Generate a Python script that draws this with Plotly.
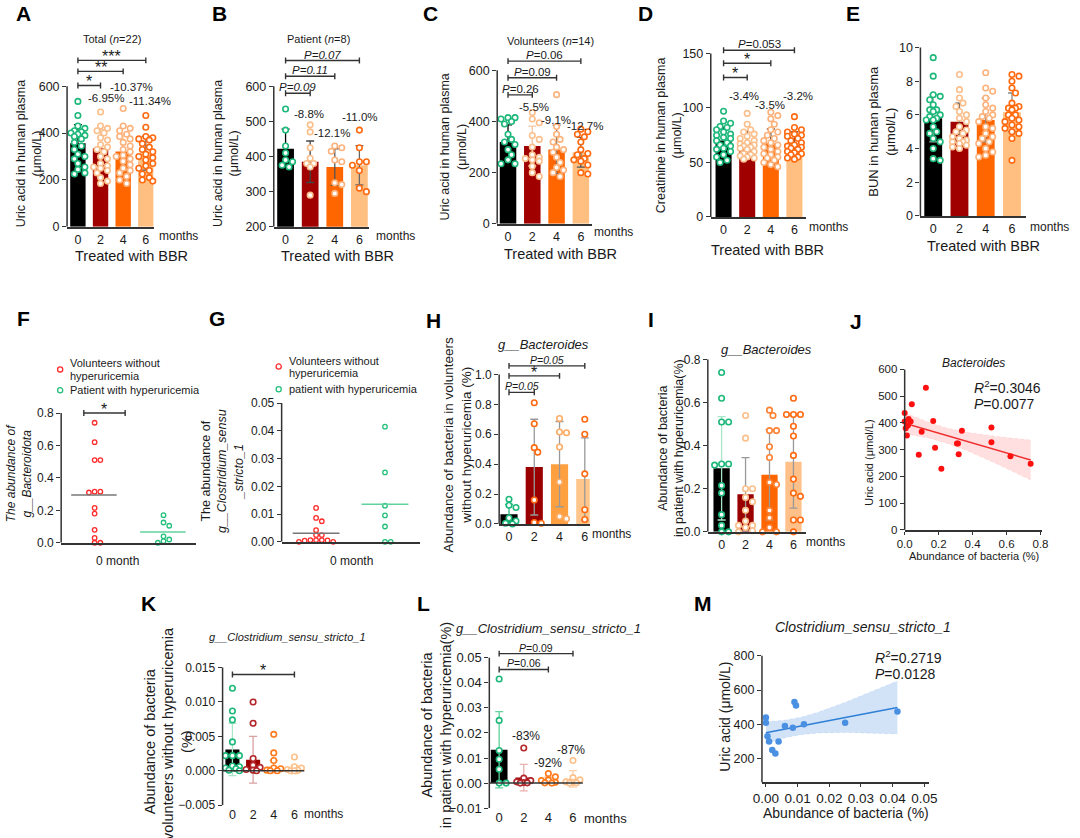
import numpy as np
import plotly.graph_objects as go

W, H = 1080, 838
FONT = "Liberation Sans, Arial, Helvetica, sans-serif"
TXT = "#1a1a1a"
AXC = "#333333"
MONTHS = ["0", "2", "4", "6"]

# ---------------- data ----------------
A_MEAN = [356, 335, 321, 314]
A_SD = [80, 80, 78, 72]
A_PTS = [
    [535, 475, 430, 420, 410, 405, 400, 395, 390, 385, 375, 360, 345, 330, 310, 300, 290, 270, 255, 245, 230, 225],
    [490, 430, 420, 410, 400, 380, 370, 350, 340, 330, 320, 300, 290, 270, 260, 255, 250, 240, 230, 210, 195, 185],
    [505, 430, 420, 410, 395, 385, 375, 360, 345, 330, 320, 305, 300, 290, 280, 265, 250, 240, 230, 215, 200, 185],
    [475, 425, 385, 380, 375, 370, 355, 340, 330, 320, 310, 300, 295, 285, 270, 260, 250, 240, 225, 210, 200, 195],
]
A_PCT = ["-6.95%", "-10.37%", "-11.34%"]

B_MEAN = [422, 385, 370, 375]
B_SD = [56, 59, 52, 56]
B_PTS = [
    [535, 475, 430, 410, 390, 385, 375, 370],
    [490, 470, 425, 395, 380, 380, 370, 290],
    [430, 425, 415, 390, 385, 325, 320, 295],
    [475, 425, 385, 385, 375, 360, 310, 300],
]
B_PCT = ["-8.8%", "-12.1%", "-11.0%"]

C_MEAN = [320, 304, 291, 280]
C_SD = [67, 78, 95, 58]
C_PTS = [
    [415, 415, 410, 400, 390, 350, 330, 320, 310, 290, 270, 250, 235, 235],
    [435, 410, 395, 345, 330, 300, 270, 260, 255, 250, 245, 225, 200, 185],
    [505, 380, 350, 330, 320, 300, 290, 280, 260, 240, 220, 210, 200, 185],
    [370, 360, 350, 340, 320, 290, 275, 270, 255, 250, 245, 230, 200, 195],
]
C_PCT = ["-5.5%", "-9.1%", "-12.7%"]

D_MEAN = [70.2, 67.8, 67.7, 68.0]
D_SD = [12, 11, 13, 10]
D_PTS = [
    [97, 88, 86, 83, 82, 80, 78, 76, 75, 73, 72, 70, 68, 66, 65, 63, 62, 60, 57, 55, 52, 50],
    [95, 85, 80, 78, 76, 74, 72, 70, 68, 67, 66, 65, 64, 63, 62, 60, 58, 57, 56, 55, 54, 53],
    [96, 93, 90, 85, 80, 78, 75, 72, 70, 68, 66, 64, 62, 60, 58, 57, 55, 54, 52, 50, 48, 46],
    [92, 82, 80, 78, 76, 75, 74, 72, 70, 68, 66, 65, 64, 63, 62, 60, 59, 58, 57, 55, 54, 53],
]
D_PCT = ["-3.4%", "-3.5%", "-3.2%"]

E_MEAN = [5.8, 5.6, 5.7, 6.15]
E_SD = [1.4, 1.1, 1.3, 1.15]
E_PTS = [
    [9.4, 8.3, 7.2, 7.1, 6.9, 6.6, 6.3, 6.3, 6.2, 6.0, 5.9, 5.8, 5.7, 5.7, 5.3, 5.0, 4.9, 4.6, 4.4, 4.0, 3.4, 3.3],
    [8.4, 7.5, 7.0, 6.7, 6.5, 6.2, 6.0, 5.8, 5.6, 5.3, 5.1, 5.0, 4.9, 4.7, 4.6, 4.5, 4.4, 4.4, 4.3, 4.2, 4.1, 4.0],
    [8.5, 7.6, 7.4, 7.0, 6.6, 6.4, 6.2, 6.0, 5.9, 5.8, 5.6, 5.3, 5.2, 4.9, 4.7, 4.6, 4.4, 4.3, 4.0, 3.8, 3.6, 3.5],
    [8.4, 8.3, 8.0, 7.6, 7.3, 6.7, 6.5, 6.4, 6.4, 6.3, 6.0, 6.0, 5.8, 5.7, 5.6, 5.4, 5.3, 5.2, 5.0, 4.9, 4.6, 3.3],
]

F_VOL = [0.74, 0.62, 0.51, 0.51, 0.315, 0.315, 0.31, 0.215, 0.18, 0.08, 0.03, 0.0, 0.0]
F_PAT = [0.17, 0.125, 0.105, 0.04, 0.02, 0.01, 0.0]
G_VOL = [0.0122, 0.0086, 0.0074, 0.0042, 0.0024, 0.0024, 0.0006, 0.0006, 0.0005, 0.0004, 0.0006, 0.0, 0.0]
G_PAT = [0.0415, 0.025, 0.013, 0.0095, 0.0055, 0.0, 0.0]

H_MEAN = [0.065, 0.38, 0.40, 0.30]
H_SD = [0.065, 0.32, 0.285, 0.275]
H_PTS = [
    [0.165, 0.125, 0.11, 0.04, 0.02, 0.005, 0.0],
    [0.81, 0.67, 0.51, 0.48, 0.16, 0.01, 0.005],
    [0.705, 0.615, 0.61, 0.515, 0.28, 0.05, 0.035],
    [0.70, 0.60, 0.335, 0.32, 0.095, 0.03, 0.005],
]

I_MEAN = [0.295, 0.175, 0.265, 0.325]
I_SD = [0.24, 0.17, 0.21, 0.215]
I_PTS = [
    [0.74, 0.62, 0.51, 0.51, 0.315, 0.315, 0.31, 0.215, 0.18, 0.08, 0.03, 0.0, 0.0],
    [0.54, 0.435, 0.20, 0.20, 0.16, 0.14, 0.10, 0.05, 0.03, 0.03, 0.02, 0.005, 0.0],
    [0.565, 0.54, 0.47, 0.47, 0.395, 0.345, 0.23, 0.22, 0.10, 0.065, 0.02, 0.0, 0.0],
    [0.62, 0.545, 0.545, 0.545, 0.49, 0.445, 0.355, 0.245, 0.18, 0.165, 0.055, 0.055, 0.0],
]

J_X = [0.0, 0.0, 0.006, 0.013, 0.023, 0.035, 0.019, 0.042, 0.125, 0.10, 0.083, 0.168, 0.179,
       0.216, 0.308, 0.314, 0.318, 0.337, 0.511, 0.511, 0.623, 0.742]
J_Y = [437, 405, 380, 353, 415, 405, 390, 470, 532, 367, 281, 407, 307,
       229, 323, 323, 283, 371, 383, 328, 275, 247]

K_MEAN = [0.0031, 0.0016, 0.0006, 0.0002]
K_SD = [0.0038, 0.0034, 0.0009, 0.0006]
K_PTS = [
    [0.012, 0.0087, 0.0074, 0.0042, 0.0022, 0.0022, 0.0022, 0.0007, 0.0006, 0.0004, 0.0003, 0.0001, 0.0],
    [0.010, 0.0069, 0.0018, 0.0008, 0.0005, 0.0002, 0.0001, 0.0],
    [0.0053, 0.0026, 0.0015, 0.0004, 0.0003, 0.0001, 0.0, 0.0],
    [0.0020, 0.0006, 0.0004, 0.0002, 0.0001, 0.0, 0.0],
]

L_MEAN = [0.0133, 0.0022, 0.0011, 0.0017]
L_SD = [0.0152, 0.0053, 0.0013, 0.0033]
L_PTS = [
    [0.0415, 0.025, 0.013, 0.0095, 0.0055, 0.0, 0.0],
    [0.014, 0.002, 0.001, 0.0005, 0.0002, 0.0001, 0.0],
    [0.0038, 0.0025, 0.0012, 0.001, 0.0003, 0.0001, 0.0],
    [0.009, 0.0022, 0.0013, 0.0005, 0.0003, 0.0001, 0.0],
]
L_PCT = ["-83%", "-92%", "-87%"]

M_X = [0.0, 0.0, 0.0005, 0.001, 0.002, 0.003, 0.004, 0.006, 0.0085, 0.009, 0.0095, 0.012, 0.025, 0.0415]
M_Y = [440, 410, 330, 300, 250, 230, 300, 390, 380, 530, 510, 400, 410, 475]

# ---------------- colours ----------------
GREEN = "#1db87a"
BAR_ROW1 = ["#000000", "#a00000", "#ff6600", "#ffbf80"]
PT_ROW1 = [GREEN, "#fbbf8c", "#fdb27c", "#ff6a10"]

fig = go.Figure()
LAY = dict(width=W, height=H, margin=dict(l=0, r=0, t=0, b=0), paper_bgcolor="white",
           plot_bgcolor="rgba(0,0,0,0)", showlegend=False, barmode="overlay",
           font=dict(family=FONT, color=TXT, size=12))
SHAPES, ANNS, P = [], [], {}


def axes(n, xdom, xcal, ydom, ycal, yticks, yfmt, ysize=12.5, xticks=(0, 1, 2, 3), xtext=MONTHS,
         xfmt=None, xline=True, xsize=12.5, xtickmark=False, yline=None):
    s = "" if n == 1 else str(n)
    xn, yn = "x" + s, "y" + s
    (xv1, xp1), (xv2, xp2) = xcal
    sx = (xp2 - xp1) / (xv2 - xv1)
    xr = [xv1 + (xdom[0] - xp1) / sx, xv1 + (xdom[1] - xp1) / sx]
    (yv1, yp1), (yv2, yp2) = ycal
    sy = (yp2 - yp1) / (yv2 - yv1)
    yr = [yv1 + (ydom[1] - yp1) / sy, yv1 + (ydom[0] - yp1) / sy]
    xa = dict(domain=[xdom[0] / W, xdom[1] / W], range=xr, anchor=yn, showgrid=False, zeroline=False,
              showline=xline, linecolor=AXC, linewidth=1.5,
              ticks="outside" if xtickmark else "", ticklen=3, tickwidth=1.3, tickcolor=AXC,
              tickmode="array", tickvals=list(xticks), showticklabels=len(xticks) > 0,
              tickfont=dict(size=xsize, color=TXT, family=FONT))
    if xtext is not None:
        xa["ticktext"] = list(xtext)
    if xfmt:
        xa["tickformat"] = xfmt
    ya = dict(domain=[1 - ydom[1] / H, 1 - ydom[0] / H], range=yr, anchor=xn, showgrid=False,
              zeroline=False, showline=False, ticks="outside", ticklen=4, tickwidth=1.3, tickcolor=AXC,
              tickmode="array", tickvals=list(yticks), tickformat=yfmt,
              tickfont=dict(size=ysize, color=TXT, family=FONT))
    LAY["xaxis" + s] = xa
    LAY["yaxis" + s] = ya
    lo, hi = yline if yline else (yticks[0], yticks[-1])
    if lo is None:
        lo = yr[0]
    SHAPES.append(dict(type="line", xref=xn + " domain", yref=yn, x0=0, x1=0, y0=lo, y1=hi,
                       line=dict(color=AXC, width=1.5)))
    P[n] = dict(xn=xn, yn=yn, sx=abs(sx), sy=abs(sy))
    return P[n]


def swarm(vals, sx, sy, d, cap):
    order = sorted(range(len(vals)), key=lambda k: -vals[k])
    step = d / 2.0
    cands = [0.0]
    k = 1
    while k * step <= cap + 1e-9:
        cands += [k * step, -k * step]
        k += 1
    placed, offs = [], [0.0] * len(vals)
    for i in order:
        y = vals[i] * sy
        best, bestd = 0.0, -1.0
        for c in cands:
            md = min([((c - a) ** 2 + (y - b) ** 2) ** 0.5 for a, b in placed], default=1e9)
            if md >= d * 0.8:
                best = c
                break
            if md > bestd:
                bestd, best = md, c
        placed.append((best, y))
        offs[i] = best / sx
    return offs


def bars(p, means, sds, cols, ecols, width=0.68):
    for i, (m, s) in enumerate(zip(means, sds)):
        fig.add_trace(go.Bar(x=[i], y=[m], width=width, marker=dict(color=cols[i], line=dict(width=0)),
                             error_y=dict(type="data", array=[s], color=ecols[i], thickness=1.3, width=4),
                             xaxis=p["xn"], yaxis=p["yn"], hoverinfo="skip"))


def dots(p, groups, cols, size=5.5, lw=1.6, fill="white", cap=8, xs=None):
    for i, vals in enumerate(groups):
        off = swarm(vals, p["sx"], p["sy"], size + lw, cap)
        x0 = i if xs is None else xs[i]
        fig.add_trace(go.Scatter(x=[x0 + o for o in off], y=vals, mode="markers",
                                 marker=dict(size=size, color=fill, line=dict(color=cols[i], width=lw)),
                                 xaxis=p["xn"], yaxis=p["yn"], cliponaxis=False, hoverinfo="skip"))


def bracket(p, x0, x1, y, text, size=11.5, star=False, cap_px=3.0):
    hy = cap_px / p["sy"]
    ln = dict(color=AXC, width=1.4)
    for (a, b, c, d) in [(x0, y, x1, y), (x0, y - hy, x0, y + hy), (x1, y - hy, x1, y + hy)]:
        SHAPES.append(dict(type="line", xref=p["xn"], yref=p["yn"], x0=a, y0=b, x1=c, y1=d, line=ln))
    ANNS.append(dict(x=(x0 + x1) / 2, y=y, xref=p["xn"], yref=p["yn"], text=text, showarrow=False,
                     yanchor="bottom", yshift=(-7 if star else -2),
                     font=dict(size=(16 if star else size), color=TXT, family=FONT)))


def txt(x, y, text, size=12, anchor="center", angle=0, color=TXT, align="center"):
    ANNS.append(dict(x=x / W, y=1 - y / H, xref="paper", yref="paper", text=text, showarrow=False,
                     xanchor=anchor, yanchor="middle", textangle=angle, align=align,
                     font=dict(size=size, color=color, family=FONT)))


def circ(x, y, color, r=2.6):
    SHAPES.append(dict(type="circle", xref="paper", yref="paper", x0=(x - r) / W, x1=(x + r) / W,
                       y0=1 - (y + r) / H, y1=1 - (y - r) / H, line=dict(color=color, width=1.3),
                       fillcolor="white"))


def regress(p, xs, ys, color, fill, tval):
    xs, ys = np.asarray(xs, float), np.asarray(ys, float)
    b, a = np.polyfit(xs, ys, 1)
    n = len(xs)
    xm = xs.mean()
    sxx = ((xs - xm) ** 2).sum()
    s = np.sqrt(((ys - (a + b * xs)) ** 2).sum() / (n - 2))
    gx = np.linspace(xs.min(), xs.max(), 80)
    fit = a + b * gx
    se = s * np.sqrt(1.0 / n + (gx - xm) ** 2 / sxx)
    fig.add_trace(go.Scatter(x=gx, y=fit - tval * se, mode="lines", line=dict(width=0.6, color=fill, dash="dot"),
                             xaxis=p["xn"], yaxis=p["yn"], hoverinfo="skip"))
    fig.add_trace(go.Scatter(x=gx, y=fit + tval * se, mode="lines", line=dict(width=0.6, color=fill, dash="dot"),
                             fill="tonexty", fillcolor=fill, xaxis=p["xn"], yaxis=p["yn"], hoverinfo="skip"))
    fig.add_trace(go.Scatter(x=gx, y=fit, mode="lines", line=dict(width=1.5, color=color),
                             xaxis=p["xn"], yaxis=p["yn"], hoverinfo="skip"))


PANEL_LETTERS = [("A", 15, 14), ("B", 214, 14), ("C", 428, 14), ("D", 647, 14), ("E", 857, 14),
                 ("F", 15, 322), ("G", 211, 322), ("H", 431, 324), ("I", 652, 323), ("J", 861, 325),
                 ("K", 142, 609), ("L", 421, 609), ("M", 705, 609)]
for t, x, y in PANEL_LETTERS:
    txt(x, y, "<b>%s</b>" % t, size=21, color="#000000")

# ---------------- A ----------------
p = axes(1, (59, 147), ((0, 70), (3, 139)), (28, 229), ((0, 229), (600, 87)), [0, 200, 400, 600], "d")
bars(p, A_MEAN, A_SD, BAR_ROW1, ["#000000", "#f3c6a2", "#ffd9b8", "#666666"])
dots(p, A_PTS, PT_ROW1)
bracket(p, 0, 3, 710, "***", star=True)
bracket(p, 0, 2, 663, "**", star=True)
bracket(p, 0, 1, 603, "*", star=True)
txt(105, 39, "Total (<i>n</i>=22)", 11)
for (x, y), t in zip([(99, 99), (124, 88), (143, 102)], A_PCT):
    txt(x, y, t, 11.5)
txt(20, 155, "Uric acid in human plasma<br>(μmol/L)", 12.5, angle=-90)
txt(172, 238, "months", 12)
txt(124, 258, "Treated with BBR", 14.5)

# ---------------- B ----------------
p = axes(2, (269, 366), ((0, 281), (3, 356)), (28, 229), ((200, 229), (600, 87)), [200, 300, 400, 500, 600], "d")
bars(p, B_MEAN, B_SD, BAR_ROW1, ["#000000", "#444444", "#555555", "#666666"])
dots(p, B_PTS, PT_ROW1)
bracket(p, 0, 3, 673, "<i>P=0.07</i>")
bracket(p, 0, 2, 628, "<i>P=0.11</i>")
bracket(p, 0, 1, 580, "<i>P=0.09</i>")
txt(314, 39, "Patient (<i>n</i>=8)", 11)
for (x, y), t in zip([(305, 115), (328, 134), (357, 118)], B_PCT):
    txt(x, y, t, 11.5)
txt(220, 155, "Uric acid in human plasma<br>(μmol/L)", 12.5, angle=-90)
txt(393, 238, "months", 12)
txt(334, 258, "Treated with BBR", 14.5)

# ---------------- C ----------------
p = axes(3, (496, 592), ((0, 507), (3, 581)), (28, 226), ((0, 226), (600, 71)), [0, 200, 400, 600], "d")
bars(p, C_MEAN, C_SD, BAR_ROW1, ["#000000", "#f3c6a2", "#555555", "#555555"])
dots(p, C_PTS, PT_ROW1)
bracket(p, 0, 3, 636, "<i>P</i>=0.06")
bracket(p, 0, 2, 571, "<i>P</i>=0.09")
bracket(p, 0, 1, 504, "<i>P</i>=0.26")
txt(550, 41, "Volunteers (<i>n</i>=14)", 11)
for (x, y), t in zip([(533, 108), (556, 121), (585, 127)], C_PCT):
    txt(x, y, t, 11.5)
txt(451, 148, "Uric acid in human plasma<br>(μmol/L)", 12.5, angle=-90)
txt(614, 234, "months", 12)
txt(560, 256, "Treated with BBR", 14.5)

# ---------------- D ----------------
p = axes(4, (713, 810), ((0, 726), (3, 798)), (28, 219), ((0, 219), (150, 54)), [0, 50, 100, 150], "d")
bars(p, D_MEAN, D_SD, BAR_ROW1, ["#000000", "#333333", "#333333", "#333333"])
dots(p, D_PTS, PT_ROW1)
bracket(p, 0, 3, 153, "<i>P</i>=0.053")
bracket(p, 0, 2, 141, "*", star=True)
bracket(p, 0, 1, 128, "*", star=True)
for (x, y), t in zip([(747, 97), (773, 106), (802, 97)], D_PCT):
    txt(x, y, t, 11.5)
txt(670, 136, "Creatinine in human plasma<br>(μmol/L)", 12.5, angle=-90)
txt(833, 229, "months", 12)
txt(771, 252, "Treated with BBR", 14.5)

# ---------------- E ----------------
p = axes(5, (926, 1033), ((0, 939), (3, 1019)), (40, 218), ((0, 218), (10, 48)), [0, 2, 4, 6, 8, 10], "d")
bars(p, E_MEAN, E_SD, BAR_ROW1, ["#aaaaaa", "#444444", "#888888", "#888888"])
dots(p, E_PTS, PT_ROW1)
txt(887, 133, "BUN in human plasma<br>(μmol/L)", 13, angle=-90)
txt(1057, 229, "months", 12)
txt(990, 248, "Treated with BBR", 14.5)

# ---------------- F ----------------
p = axes(6, (53, 190), ((0, 87), (1, 157)), (400, 548), ((0, 548), (0.8, 417)), [0, 0.2, 0.4, 0.6, 0.8], ".1f",
         ysize=12, xticks=(), xtext=None)
dots(p, [F_VOL, F_PAT], ["#ff2a2a", "#22c07a"], size=4.5, lw=1.3, cap=14)
for gi, (vals, c) in enumerate([(F_VOL, "#777777"), (F_PAT, "#5fd39b")]):
    m = float(np.mean(vals))
    SHAPES.append(dict(type="line", xref=p["xn"], yref=p["yn"], x0=gi - 0.34, x1=gi + 0.32, y0=m, y1=m,
                       line=dict(color=c, width=1.5)))
bracket(p, -0.157, 0.443, 0.8, "*", star=True)
circ(52, 373, "#ff2a2a")
circ(52, 394, "#22c07a")
txt(60, 367, "Volunteers without", 11, anchor="left")
txt(60, 380, "hyperuricemia", 11, anchor="left")
txt(60, 394, "Patient with hyperuricemia", 11, anchor="left")
txt(11, 478, "<i>The abundance of<br>g__Bacteroidota</i>", 12, angle=-90)
txt(110, 566, "0 month", 12)

# ---------------- G ----------------
p = axes(7, (277, 418), ((0, 312), (1, 382)), (400, 547), ((0, 547), (0.05, 407)),
         [0, 0.01, 0.02, 0.03, 0.04, 0.05], ".2f", ysize=12, xticks=(), xtext=None)
dots(p, [G_VOL, G_PAT], ["#ff2a2a", "#22c07a"], size=4.5, lw=1.3, cap=22)
for gi, (vals, c) in enumerate([(G_VOL, "#777777"), (G_PAT, "#5fd39b")]):
    m = float(np.mean(vals))
    SHAPES.append(dict(type="line", xref=p["xn"], yref=p["yn"], x0=gi - 0.34, x1=gi + 0.34, y0=m, y1=m,
                       line=dict(color=c, width=1.5)))
circ(274, 370, "#ff2a2a")
circ(274, 393, "#22c07a")
txt(282, 364, "Volunteers without", 11, anchor="left")
txt(282, 377, "hyperuricemia", 11, anchor="left")
txt(282, 393, "patient with hyperuricemia", 11, anchor="left")
txt(217, 476, "The abundance of<br><i>g__Clostridium_sensu</i><br><i>_stricto_1</i>", 12.5, angle=-90)
txt(348, 566, "0 month", 12)

# ---------------- H ----------------
p = axes(8, (498, 590), ((0, 508), (3, 585)), (355, 529), ((0, 529), (1.0, 378)),
         [0, 0.2, 0.4, 0.6, 0.8, 1.0], ".1f", ysize=12)
bars(p, H_MEAN, H_SD, ["#000000", "#9a0000", "#ffa040", "#ffc58a"], ["#2db57a", "#999999", "#999999", "#999999"])
dots(p, H_PTS, [GREEN, "#ff6a10", "#fdac66", "#ff6a10"])
bracket(p, 0, 3, 1.057, "<i>P=0.05</i>", size=10.5)
bracket(p, 0, 2, 0.99, "*", star=True)
bracket(p, 0, 1, 0.88, "<i>P=0.05</i>", size=10.5)
txt(543, 348, "<i>g__Bacteroides</i>", 13)
txt(456, 449, "Abundance of bacteria in volunteers<br>without hyperuricemia (%)", 13.5, angle=-90)
txt(612, 539, "months", 12)

# ---------------- I ----------------
p = axes(9, (710, 810), ((0, 724), (3, 797)), (355, 537), ((0, 537), (0.8, 363)),
         [0, 0.2, 0.4, 0.6, 0.8], ".1f", ysize=12)
bars(p, I_MEAN, I_SD, ["#000000", "#9a0000", "#ff6600", "#ffc08a"], ["#a8e6c8", "#999999", "#999999", "#999999"])
dots(p, I_PTS, [GREEN, "#fbbf8c", "#ff8030", "#ff6a10"])
txt(770, 353, "<i>g__Bacteroides</i>", 13)
txt(672, 452, "Abundance of bacteria<br>in patient with hyperuricemia(%)", 12.5, angle=-90)
txt(830, 547, "months", 12)

# ---------------- J ----------------
p = axes(10, (910, 1050), ((0, 910), (0.8, 1048)), (365, 535), ((0, 535), (600, 373)),
         [0, 100, 200, 300, 400, 500, 600], "d", ysize=11.5,
         xticks=(0, 0.2, 0.4, 0.6, 0.8), xtext=None, xfmt=".1f", xsize=11.5, xtickmark=True)
regress(p, J_X, J_Y, "#f03030", "rgba(255,80,80,0.18)", 2.086)
fig.add_trace(go.Scatter(x=J_X, y=J_Y, mode="markers", marker=dict(size=6, color="#ff1010"),
                         xaxis=p["xn"], yaxis=p["yn"], cliponaxis=False, hoverinfo="skip"))
txt(980, 367, "<i>Bacteroides</i>", 12)
txt(978, 391, "<i>R</i><sup>2</sup>=0.3046", 14, anchor="left")
txt(978, 408, "<i>P</i>=0.0077", 14, anchor="left")
txt(873, 467, "Uric acid (μmol/L)", 11, angle=-90)
txt(980, 561, "Abundance of bacteria (%)", 11)

# ---------------- K ----------------
p = axes(11, (217, 300), ((0, 227), (3, 290)), (650, 813), ((-0.005, 813), (0.015, 674)),
         [-0.005, 0, 0.005, 0.010, 0.015], ".3f", ysize=12, xline=False)
SHAPES.append(dict(type="line", xref=p["xn"] + " domain", yref=p["yn"], x0=0, x1=1, y0=0, y1=0,
                   line=dict(color=AXC, width=1.5)))
bars(p, K_MEAN, K_SD, ["#000000", "#9a0000", "#ff6600", "#ffc08a"], ["#a8e6c8", "#d9a0a0", "#ffb080", "#ffd5b0"])
dots(p, K_PTS, [GREEN, "#b3262a", "#ff7a1a", "#fdc08a"], cap=8)
bracket(p, 0, 3, 0.0140, "*", star=True)
txt(283, 643, "<i>g__Clostridium_sensu_stricto_1</i>", 11)
txt(162, 748, "Abundance of bacteria<br>in volunteers without hyperuricemia<br>(%)", 14.5, angle=-90)
txt(320, 822, "months", 12)

# ---------------- L ----------------
p = axes(12, (488, 583), ((0, 498), (3, 573)), (640, 816), ((-0.01, 816), (0.05, 664)),
         [-0.01, 0, 0.01, 0.02, 0.03, 0.04, 0.05], ".2f", ysize=13, xline=False, xsize=13)
SHAPES.append(dict(type="line", xref=p["xn"] + " domain", yref=p["yn"], x0=0, x1=1, y0=0, y1=0,
                   line=dict(color=AXC, width=1.5)))
bars(p, L_MEAN, L_SD, ["#000000", "#9a0000", "#ff6600", "#ffc08a"], ["#5fd39b", "#e8b0b0", "#ffb080", "#ffd0a8"])
dots(p, L_PTS, [GREEN, "#b3262a", "#ff7a1a", "#fdc08a"], cap=8)
bracket(p, 0, 3, 0.0516, "<i>P</i>=0.09", size=10.5)
bracket(p, 0, 2, 0.0453, "<i>P</i>=0.06", size=10.5)
for (x, y), t in zip([(525, 743), (548, 770), (571, 757)], L_PCT):
    txt(x, y, t, 12)
txt(548, 635, "<i>g__Clostridium_sensu_stricto_1</i>", 13)
txt(434, 732, "Abundance of bacteria<br>in patient with hyperuricemia(%)", 14.5, angle=-90)
txt(606, 826, "months", 13)

# ---------------- M ----------------
p = axes(13, (765, 935), ((0, 769), (0.05, 930)), (640, 790), ((200, 766), (800, 662)),
         [200, 400, 600, 800], "d", ysize=12.5,
         xticks=(0, 0.01, 0.02, 0.03, 0.04, 0.05), xtext=None, xfmt=".2f", xsize=13.5, xtickmark=True,
         yline=(None, 800))
regress(p, M_X, M_Y, "#2f7fd6", "rgba(74,144,226,0.25)", 2.179)
fig.add_trace(go.Scatter(x=M_X, y=M_Y, mode="markers", marker=dict(size=6.5, color="#4a90e2"),
                         xaxis=p["xn"], yaxis=p["yn"], cliponaxis=False, hoverinfo="skip"))
txt(868, 633, "<i>Clostridium_sensu_stricto_1</i>", 14)
txt(878, 663, "<i>R</i><sup>2</sup>=0.2719", 14, anchor="left")
txt(878, 681, "<i>P</i>=0.0128", 14, anchor="left")
txt(728, 724, "Uric acid (μmol/L)", 14, angle=-90)
txt(850, 821, "Abundance of bacteria (%)", 14)

LAY["shapes"] = SHAPES
LAY["annotations"] = ANNS
fig.update_layout(**LAY)
fig.write_html("out.html")
